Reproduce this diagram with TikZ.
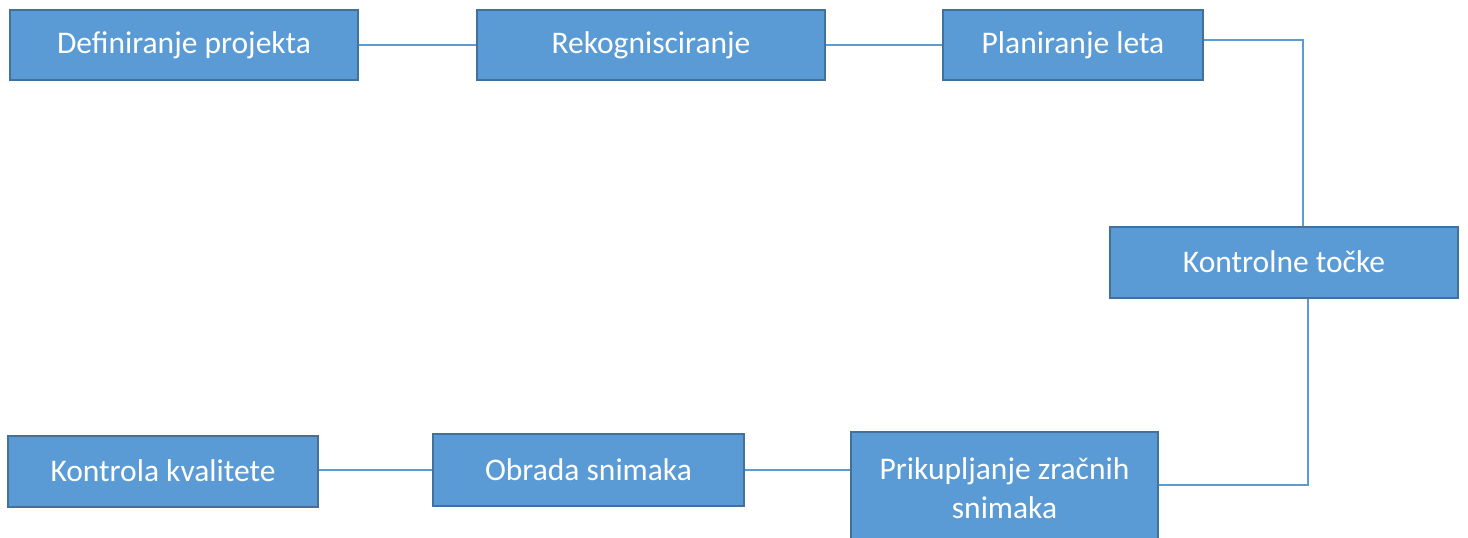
\documentclass[tikz,border=0pt]{standalone}
\usepackage{fontspec}
\setmainfont{Carlito}
\usetikzlibrary{positioning}
\definecolor{boxfill}{HTML}{5B9BD5}
\definecolor{boxline}{HTML}{41719C}
\tikzset{korak/.style={draw=boxline, fill=boxfill, line width=2pt, text=white,
    font=\fontsize{31.5}{39}\selectfont, inner sep=0pt, align=center},
  veza/.style={draw=boxfill, line width=1.2pt}}

\begin{document}
\begin{tikzpicture}[x=1pt,y=-1pt]
   \clip (0,0) rectangle (1468,538);
   \useasboundingbox (0,0) rectangle (1468,538);
   % gornji red
   \node[korak, minimum width=348, minimum height=70] (def)  at (184,45)   {Definiranje projekta};
   \node[korak, minimum width=348, minimum height=70] (rek)  at (651,45)   {Rekognisciranje};
   \node[korak, minimum width=260, minimum height=70] (plan) at (1073,45)  {Planiranje leta};
   \node[korak, minimum width=348, minimum height=71] (kt)   at (1284,262) {Kontrolne točke};
   % donji red
   \node[korak, minimum width=307, minimum height=112] (prik) at (1004.5,488) {Prikupljanje zračnih\\snimaka};
   \node[korak, minimum width=311, minimum height=72] (obr)  at (588.5,470) {Obrada snimaka};
   \node[korak, minimum width=310, minimum height=71] (kk)   at (163,471)   {Kontrola kvalitete};
   % veze
   \draw[veza] (def) -- (rek);
   \draw[veza] (rek) -- (plan);
   \draw[veza] ([yshift=5pt]plan.east) -| ([xshift=19pt]kt.north);
   \draw[veza] ([xshift=24pt]kt.south) |- ([yshift=3pt]prik.east);
   \draw[veza] (obr.east -| prik.west) -- (obr.east);
   \draw[veza] (obr.west) -- (obr.west -| kk.east);
\end{tikzpicture}
\end{document}
